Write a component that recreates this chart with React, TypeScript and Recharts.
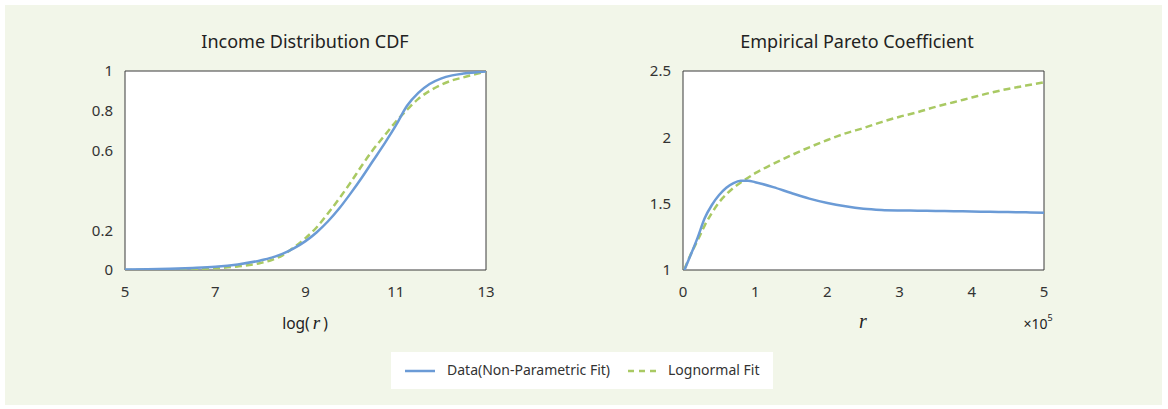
import React from 'react';
import { LineChart, Line, XAxis, YAxis, ReferenceArea } from 'recharts';

// CDF panel: x = log(r)
const cdfX = [5, 5.5, 6, 6.5, 7, 7.5, 8, 8.25, 8.5, 8.75, 9, 9.25, 9.5, 9.75, 10, 10.25, 10.5, 10.75, 11, 11.25, 11.5, 11.75, 12, 12.25, 12.5, 12.75, 13];
const cdfData = [0.003, 0.004, 0.006, 0.01, 0.016, 0.028, 0.048, 0.062, 0.082, 0.11, 0.145, 0.19, 0.245, 0.31, 0.385, 0.465, 0.55, 0.635, 0.725, 0.825, 0.89, 0.935, 0.962, 0.978, 0.987, 0.993, 0.997];
const cdfLognormal = [0, 0.001, 0.002, 0.005, 0.009, 0.018, 0.035, 0.05, 0.075, 0.115, 0.16, 0.215, 0.285, 0.36, 0.44, 0.525, 0.605, 0.675, 0.745, 0.805, 0.86, 0.9, 0.93, 0.953, 0.968, 0.983, 0.997];
const cdfXTicks = [5, 7, 9, 11, 13];
const cdfYTicks = [0, 0.2, 0.6, 0.8, 1];

// Pareto panel: x = r (x10^5)
const paretoX = [0.02, 0.1, 0.2, 0.3, 0.4, 0.5, 0.6, 0.7, 0.8, 0.9, 1, 1.25, 1.5, 1.75, 2, 2.25, 2.5, 2.75, 3, 3.25, 3.5, 3.75, 4, 4.25, 4.5, 4.75, 5];
const paretoData = [1.0, 1.105, 1.24, 1.39, 1.49, 1.565, 1.62, 1.655, 1.672, 1.673, 1.662, 1.625, 1.58, 1.538, 1.505, 1.48, 1.462, 1.453, 1.449, 1.447, 1.445, 1.443, 1.441, 1.439, 1.437, 1.435, 1.432];
const paretoLognormal = [1.005, 1.11, 1.22, 1.335, 1.43, 1.51, 1.57, 1.62, 1.66, 1.695, 1.73, 1.8, 1.865, 1.925, 1.98, 2.03, 2.07, 2.115, 2.155, 2.19, 2.23, 2.265, 2.3, 2.335, 2.365, 2.39, 2.415];
const paretoXTicks = [0, 1, 2, 3, 4, 5];
const paretoYTicks = [1, 1.5, 2, 2.5];

const seriesNames = ['Data(Non-Parametric Fit)', 'Lognormal Fit'];

const BLUE = '#6b9bd6';
const GREEN = '#a9c963';
const FONT = '"Noto Sans", sans-serif';
const tickStyle = { fontSize: 15, fill: '#333', fontFamily: FONT };

const cdfRows = cdfX.map((x, i) => ({ x, data: cdfData[i], logn: cdfLognormal[i] }));
const paretoRows = paretoX.map((x, i) => ({ x, data: paretoData[i], logn: paretoLognormal[i] }));

const Panel = ({ rows, xDomain, yDomain, xTicks, yTicks, margin, width }: any) => (
  <LineChart width={width} height={340} data={rows} margin={margin}>
    <XAxis
      dataKey="x"
      type="number"
      domain={xDomain}
      ticks={xTicks}
      tick={tickStyle}
      tickSize={0}
      tickMargin={16}
      axisLine={false}
      allowDataOverflow
    />
    <YAxis
      type="number"
      domain={yDomain}
      ticks={yTicks}
      tick={tickStyle}
      tickSize={0}
      tickMargin={12}
      width={40}
      axisLine={false}
      allowDataOverflow
    />
    {/* white plot box with thin dark frame */}
    <ReferenceArea
      x1={xDomain[0]}
      x2={xDomain[1]}
      y1={yDomain[0]}
      y2={yDomain[1]}
      fill="#fff"
      fillOpacity={1}
      stroke="#3a3a3a"
      strokeWidth={1}
    />
    <Line dataKey="logn" type="monotone" stroke={GREEN} strokeWidth={2.5} strokeDasharray="7 4" dot={false} isAnimationActive={false} />
    <Line dataKey="data" type="monotone" stroke={BLUE} strokeWidth={2.5} dot={false} isAnimationActive={false} />
  </LineChart>
);

const text = (left: number, top: number, size: number, content: React.ReactNode, extra: any = {}) => (
  <div
    style={{
      position: 'absolute',
      left,
      top,
      transform: 'translate(-50%, -50%)',
      fontSize: size,
      fontFamily: FONT,
      color: '#222',
      whiteSpace: 'nowrap',
      ...extra,
    }}
  >
    {content}
  </div>
);

export default function App() {
  return (
    <div style={{ position: 'absolute', left: 0, top: 0, width: 1168, height: 409, background: '#fff' }}>
      <div style={{ position: 'absolute', left: 5, top: 5, width: 1157, height: 400, background: '#f2f6e9' }} />

      <div style={{ position: 'absolute', left: 0, top: 0 }}>
        <Panel
          rows={cdfRows}
          width={600}
          xDomain={[5, 13]}
          yDomain={[0, 1]}
          xTicks={cdfXTicks}
          yTicks={cdfYTicks}
          margin={{ top: 71, right: 114, left: 85, bottom: 40 }}
        />
      </div>
      <div style={{ position: 'absolute', left: 600, top: 0 }}>
        <Panel
          rows={paretoRows}
          width={500}
          xDomain={[0, 5]}
          yDomain={[1, 2.5]}
          xTicks={paretoXTicks}
          yTicks={paretoYTicks}
          margin={{ top: 71, right: 56, left: 43, bottom: 40 }}
        />
      </div>

      {text(305, 41, 18, 'Income Distribution CDF')}
      {text(857, 41, 18, 'Empirical Pareto Coefficient')}

      {text(305, 323, 15.5, (
        <span>
          log(<span style={{ fontFamily: '"Liberation Serif", serif', fontStyle: 'italic', fontSize: 19, padding: '0 3px' }}>r</span>)
        </span>
      ))}
      {text(863, 321, 15, <span style={{ fontFamily: '"Liberation Serif", serif', fontStyle: 'italic', fontSize: 20 }}>r</span>)}
      {text(1038, 323, 14, (
        <span>
          ×10<sup style={{ fontSize: 9, verticalAlign: 'top', position: 'relative', top: -3 }}>5</sup>
        </span>
      ))}

      <div
        style={{
          position: 'absolute',
          left: 391,
          top: 352,
          width: 382,
          height: 37,
          background: '#fff',
          fontFamily: FONT,
          fontSize: 14,
          color: '#333',
        }}
      >
        <svg style={{ position: 'absolute', left: 14, top: 17 }} width={30} height={4}>
          <line x1={0} y1={2} x2={30} y2={2} stroke={BLUE} strokeWidth={2.5} />
        </svg>
        <div style={{ position: 'absolute', left: 56, top: 8, whiteSpace: 'nowrap' }}>{seriesNames[0]}</div>
        <svg style={{ position: 'absolute', left: 237, top: 17 }} width={30} height={4}>
          <line x1={0} y1={2} x2={30} y2={2} stroke={GREEN} strokeWidth={2.5} strokeDasharray="6 5" />
        </svg>
        <div style={{ position: 'absolute', left: 277, top: 8, whiteSpace: 'nowrap' }}>{seriesNames[1]}</div>
      </div>
    </div>
  );
}
